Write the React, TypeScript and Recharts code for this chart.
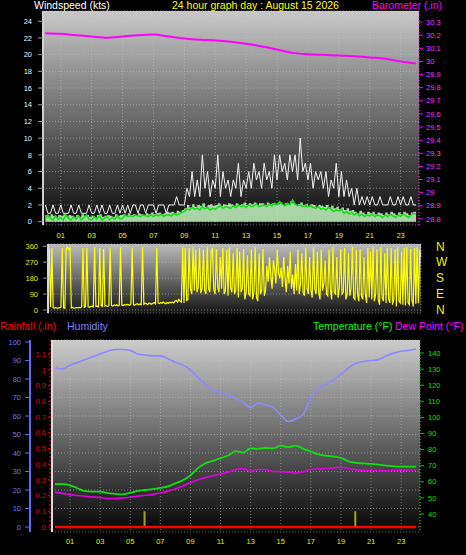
import React from "react"
import {
  ComposedChart,
  Line,
  Area,
  XAxis,
  YAxis,
  CartesianGrid,
  ReferenceLine,
} from "recharts"

const FONT = "'Liberation Sans', Arial, sans-serif"

// ─── data: wind speed, 10-minute samples from 00:00 to 24:00 ────────────────

const WIND_GUST = [
  2, 1, 1, 2, 1, 1, 2, 1, 1, 1, 2, 1, 1, 2, 1, 1, 1, 2, 1, 1, 2, 1, 2, 1,
  1, 2, 1, 1, 2, 1, 2, 1, 2, 1, 2, 2, 1, 2, 2, 1, 2, 2, 2, 1, 2, 2, 2, 1,
  2, 2, 2, 3, 2, 2, 2, 4, 3, 6, 3, 5, 3, 8, 4, 6, 3, 5, 4, 8, 3, 6, 4, 5,
  3, 5, 4, 7, 3, 5, 4, 6, 4, 7, 5, 6, 4, 7, 5, 6, 4, 8, 5, 8, 6, 7, 5, 8,
  6, 8, 5, 10, 6, 7, 5, 7, 4, 6, 5, 6, 4, 6, 3, 5, 4, 7, 3, 6, 3, 5, 3, 4,
  2, 4, 2, 3, 2, 3, 2, 3, 2, 2, 3, 2, 2, 2, 3, 2, 2, 3, 2, 3, 2, 2, 3, 2,
  2,
]

const WIND_AVG = [
  0.3, 0.8, 0.4, 0.2, 0.7, 0.3, 0.5, 0.2, 0.8, 0.4, 0.2, 0.6,
  0.3, 0.7, 0.2, 0.5, 0.8, 0.3, 0.2, 0.6, 0.3, 0.7, 0.2, 0.4,
  0.6, 0.2, 0.5, 0.3, 0.7, 0.3, 0.4, 0.8, 0.6, 0.7, 0.6, 0.8,
  0.7, 0.6, 0.8, 0.7, 0.6, 0.8, 0.6, 0.8, 0.7, 0.9, 0.6, 0.8,
  0.8, 0.7, 1.0, 0.8, 0.9, 1.1, 1.2, 1.5, 1.4, 1.7, 1.5, 1.6,
  1.4, 1.8, 1.5, 1.7, 1.4, 1.6, 1.5, 1.7, 1.9, 1.6, 1.8, 1.7,
  1.6, 1.9, 1.7, 2.0, 1.8, 1.9, 1.7, 2.0, 1.8, 1.9, 2.1, 1.8,
  1.9, 2.0, 1.8, 2.1, 1.9, 2.2, 2.0, 2.4, 2.1, 1.9, 2.2, 2.0,
  2.6, 2.1, 1.9, 2.0, 1.8, 1.9, 1.8, 1.9, 1.7, 1.6, 1.8, 1.5,
  1.6, 1.4, 1.7, 1.5, 1.2, 1.4, 1.3, 1.5, 1.0, 1.2, 0.9, 1.1,
  0.8, 1.0, 0.7, 0.9, 0.6, 0.8, 0.7, 0.9, 0.6, 0.8, 0.7, 0.5,
  0.8, 0.6, 0.9, 0.7, 0.5, 0.8, 0.6, 0.9, 0.7, 0.5, 0.8, 1.0,
  0.9,
]

const WIND_FILL = [
  0.8, 0.6, 0.9, 0.7, 0.5, 0.8, 0.7, 0.9, 0.6, 0.8, 0.7, 0.5,
  0.8, 0.6, 0.9, 0.7, 0.8, 0.6, 0.7, 0.5, 0.8, 0.9, 0.6, 0.7,
  0.8, 0.7, 0.6, 0.9, 0.7, 0.8, 0.9, 0.7, 1.0, 0.8, 0.9, 0.8,
  1.0, 0.9, 0.8, 1.0, 0.9, 1.1, 0.9, 1.0, 1.1, 0.9, 1.0, 1.2,
  1.1, 1.2, 1.0, 1.3, 1.2, 1.4, 1.6, 2.0, 1.7, 2.1, 1.8, 2.0,
  1.9, 2.2, 1.8, 2.0, 2.1, 1.9, 2.0, 2.2, 1.9, 2.1, 2.0, 2.2,
  2.1, 1.9, 2.2, 2.0, 2.1, 2.3, 2.0, 2.2, 2.1, 2.3, 2.0, 2.2,
  2.2, 2.0, 2.3, 2.1, 2.2, 2.0, 2.1, 2.3, 2.0, 2.2, 2.1, 2.4,
  2.2, 2.0, 2.1, 2.3, 2.0, 2.1, 1.9, 2.1, 2.0, 1.8, 2.0, 1.9,
  1.8, 2.0, 1.7, 1.9, 1.6, 1.8, 1.5, 1.7, 1.4, 1.6, 1.3, 1.4,
  1.2, 1.0, 1.3, 1.1, 0.9, 1.2, 1.0, 1.2, 0.9, 1.1, 1.0, 0.8,
  1.1, 0.9, 1.2, 1.0, 0.8, 1.1, 0.9, 1.2, 1.0, 0.8, 1.1, 1.2,
  1.0,
]

// ─── data: wind direction, 5-minute samples (one row per hour) ──────────────

const WIND_DIR = [
  355, 340, 15, 350, 12, 10, 14, 10, 12, 12, 15, 350,
  12, 10, 345, 355, 340, 350, 12, 15, 10, 12, 14, 12,
  15, 12, 18, 350, 15, 20, 352, 18, 15, 20, 22, 18,
  355, 20, 22, 18, 350, 25, 20, 345, 22, 25, 20, 24,
  352, 25, 22, 28, 25, 30, 24, 26, 355, 28, 25, 30,
  28, 32, 30, 26, 35, 350, 30, 28, 32, 36, 30, 34,
  30, 355, 32, 38, 35, 30, 40, 36, 32, 38, 42, 35,
  350, 40, 36, 42, 38, 45, 40, 35, 42, 38, 44, 40,
  45, 40, 50, 55, 45, 60, 50, 45, 355, 40, 350, 55,
  60, 350, 120, 90, 355, 110, 340, 100, 130, 350, 95, 120,
  340, 110, 90, 355, 120, 100, 330, 350, 115, 90, 345, 130,
  100, 300, 120, 350, 90, 110, 340, 80, 355, 125, 100, 320,
  90, 110, 350, 70, 330, 100, 120, 345, 60, 100, 310, 90,
  80, 340, 60, 100, 355, 70, 50, 320, 90, 110, 345, 80,
  110, 250, 160, 300, 200, 120, 280, 230, 150, 340, 210, 180,
  240, 130, 300, 180, 100, 250, 150, 330, 120, 200, 90, 260,
  110, 340, 90, 150, 320, 100, 80, 350, 120, 90, 300, 110,
  70, 355, 120, 90, 330, 100, 60, 340, 110, 150, 280, 90,
  80, 340, 120, 60, 355, 100, 90, 300, 70, 130, 345, 90,
  100, 350, 60, 90, 320, 80, 120, 355, 70, 60, 340, 90,
  50, 345, 80, 60, 300, 90, 40, 350, 70, 330, 60, 355,
  50, 90, 345, 60, 30, 355, 70, 50, 320, 40, 350, 60,
  40, 350, 30, 60, 345, 20, 355, 50, 40, 330, 30, 350,
  25, 355, 40, 30, 345, 60, 20, 350, 35, 355, 40, 340,
  300,
]

// hourly barometer (.in)
const BAROMETER = [
  30.215, 30.21, 30.2, 30.19, 30.18, 30.19, 30.2, 30.205, 30.19, 30.175, 30.165, 30.16,
  30.15, 30.135, 30.115, 30.09, 30.065, 30.055, 30.05, 30.045, 30.04, 30.03, 30.02, 30.0,
  29.985,
]

// ─── data: half-hourly temperature / dew point / humidity ───────────────────

const TEMPERATURE = [
  58.5, 58.5, 57.8, 56, 54.2, 53.9, 53.9, 52.9, 52.5, 52.2, 53.2, 54.3,
  54.9, 55.4, 56.2, 57.2, 59, 61, 64, 68.5, 71.5, 73, 74.7, 76.3,
  79, 78.2, 80.8, 80.5, 81, 80.8, 82.5, 81.5, 82.5, 80.5, 78.8, 77,
  76.2, 75.7, 74.8, 72.7, 71.8, 71.4, 71.1, 70.6, 70, 69.6, 69.4, 69.4,
  69.4,
]

const DEW_POINT = [
  53.4, 52.8, 52, 51.5, 51, 50.6, 50.2, 49.6, 49.6, 50, 50.4, 51.1,
  51.6, 52.2, 53, 54.2, 55.6, 57.4, 59.4, 61.3, 62.6, 63.8, 64.8, 66,
  67.5, 68.2, 66.5, 67.6, 67.5, 66.4, 66.3, 66, 65.4, 66.2, 67.6, 68,
  68.3, 68.6, 69, 68.2, 67.4, 67.2, 67, 67, 66.9, 67, 67.2, 67.3,
  67.3,
]

const HUMIDITY = [
  86, 85.5, 87.5, 89, 90.5, 92, 93.5, 95, 96, 96, 95.5, 93.5,
  93, 92.5, 92.5, 91, 89, 87.5, 85, 81, 77, 74, 72.5, 71.5,
  69.5, 67.5, 64.5, 67, 66, 64.5, 60.5, 57, 58.5, 61, 70, 75,
  77, 79.5, 82.5, 86, 88.5, 89.5, 90, 90.5, 92.5, 94, 95, 95.5,
  96.2,
]

// hourly rainfall (.in)
const RAINFALL = [0, 0, 0, 0, 0, 0, 0, 0, 0, 0, 0, 0, 0, 0, 0, 0, 0, 0, 0, 0, 0, 0, 0, 0, 0]
const RAIN_MARK_HOURS = [5.95, 19.95]
const RAIN_MARK_HEIGHT = 0.1

// ─── ticks ──────────────────────────────────────────────────────────────────

const ODD_HOURS = [1, 3, 5, 7, 9, 11, 13, 15, 17, 19, 21, 23]
const ALL_HOURS = [0, 1, 2, 3, 4, 5, 6, 7, 8, 9, 10, 11, 12, 13, 14, 15, 16, 17, 18, 19, 20, 21, 22, 23, 24]
const WIND_TICKS = [0, 2, 4, 6, 8, 10, 12, 14, 16, 18, 20, 22, 24]
const BARO_TICKS = [28.8, 28.9, 29, 29.1, 29.2, 29.3, 29.4, 29.5, 29.6, 29.7, 29.8, 29.9, 30, 30.1, 30.2, 30.3]
const DIR_TICKS = [0, 90, 180, 270, 360]
const DIR_LETTERS: Record<number, string> = { 0: "N", 90: "E", 180: "S", 270: "W", 360: "N" }
const HUM_TICKS = [0, 10, 20, 30, 40, 50, 60, 70, 80, 90, 100]
const RAIN_TICKS = [0, 0.1, 0.2, 0.3, 0.4, 0.5, 0.6, 0.7, 0.8, 0.9, 1, 1.1]
const TEMP_TICKS = [40, 50, 60, 70, 80, 90, 100, 110, 120, 130, 140]

const WIND_MINOR = Array.from({ length: 51 }, (_, i) => i * 0.5)
const HUM_MINOR = Array.from({ length: 51 }, (_, i) => i * 2)

const windRows = WIND_GUST.map((g, i) => ({ t: i / 6, gust: g, avg: WIND_AVG[i], fill: WIND_FILL[i] }))
const dirRows = WIND_DIR.map((d, i) => ({ t: i / 12, dir: d }))
const baroRows = BAROMETER.map((b, i) => ({ t: i, baro: b }))
const thRows = TEMPERATURE.map((v, i) => ({ t: i / 2, temp: v, dew: DEW_POINT[i], hum: HUMIDITY[i] }))
const rainRows = RAINFALL.map((r, i) => ({ t: i, rain: r }))

const pad = (h: number) => String(h).padStart(2, "0")
const oneDec = (v: number) => String(Number(v.toFixed(1)))
const tickFont = (fill: string, size = 7.5) => ({ fill, fontSize: size, fontFamily: FONT })

const GRID = { stroke: "#c4c4c4", strokeOpacity: 0.55, strokeDasharray: "1 2" }

// axes sharing a side get stacked by id, first id nearest the plot,
// hence the numbered prefixes below

// ─── Panel 1: windspeed + barometer ─────────────────────────────────────────

function WindChart() {
  return (
    <ComposedChart width={466} height={242} data={windRows} margin={{ top: 11, right: 0, bottom: 0, left: 0 }}>
      <defs>
        <linearGradient id="bgWind" x1="0" y1="0" x2="0" y2="1">
          <stop offset="0%" stopColor="#c8c8c8" />
          <stop offset="100%" stopColor="#0c0c0c" />
        </linearGradient>
      </defs>
      <CartesianGrid xAxisId="x2hr" yAxisId="y2wind" fill="url(#bgWind)" {...GRID} />
      <XAxis
        xAxisId="x1minor"
        type="number"
        dataKey="t"
        domain={[-0.15, 24.19]}
        allowDataOverflow
        ticks={ALL_HOURS}
        interval={0}
        tick={false}
        tickSize={3}
        height={0}
        axisLine={{ stroke: "#bdbdbd", strokeWidth: 2 }}
        tickLine={{ stroke: "#8c8c8c" }}
      />
      <XAxis
        xAxisId="x2hr"
        type="number"
        dataKey="t"
        domain={[-0.15, 24.19]}
        allowDataOverflow
        ticks={ODD_HOURS}
        interval={0}
        tickFormatter={pad}
        tick={tickFont("#eeee00")}
        tickSize={4}
        tickMargin={4}
        tickLine={false}
        axisLine={false}
        height={17}
      />
      <YAxis
        yAxisId="y1windMinor"
        domain={[-0.4, 25.23]}
        allowDataOverflow
        ticks={WIND_MINOR}
        interval={0}
        width={0}
        tick={false}
        tickSize={3}
        axisLine={false}
        tickLine={{ stroke: "#8a8a8a" }}
      />
      <YAxis
        yAxisId="y2wind"
        domain={[-0.4, 25.23]}
        allowDataOverflow
        ticks={WIND_TICKS}
        interval={0}
        width={43}
        tickSize={5}
        tickMargin={6}
        tick={tickFont("#eef2ff")}
        axisLine={{ stroke: "#d0d0d0", strokeWidth: 2 }}
        tickLine={{ stroke: "#9a9a9a" }}
      />
      <YAxis
        yAxisId="y3baro"
        orientation="right"
        domain={[28.754, 30.384]}
        allowDataOverflow
        ticks={BARO_TICKS}
        interval={0}
        tickFormatter={oneDec}
        width={47}
        tickSize={4}
        tickMargin={3}
        tick={tickFont("#ff33ff")}
        axisLine={{ stroke: "#ff00ff", strokeDasharray: "1 2" }}
        tickLine={{ stroke: "#ff00ff" }}
      />
      <Line xAxisId="x2hr" yAxisId="y2wind" dataKey="gust" type="linear" stroke="#f4f4f4" strokeWidth={1} dot={false} isAnimationActive={false} />
      <Area xAxisId="x2hr" yAxisId="y2wind" dataKey="fill" type="stepAfter" fill="#c2f6c2" fillOpacity={0.85} stroke="none" isAnimationActive={false} />
      <Line xAxisId="x2hr" yAxisId="y2wind" dataKey="avg" type="linear" stroke="#10e010" strokeWidth={1.5} dot={false} isAnimationActive={false} />
      <Line xAxisId="x2hr" yAxisId="y3baro" data={baroRows} dataKey="baro" type="monotone" stroke="#ff00ff" strokeWidth={2} dot={false} isAnimationActive={false} />
    </ComposedChart>
  )
}

// ─── Panel 2: wind direction ────────────────────────────────────────────────

function DirectionChart() {
  return (
    <ComposedChart width={466} height={80} data={dirRows} margin={{ top: 4, right: 0, bottom: 7, left: 0 }}>
      <defs>
        <linearGradient id="bgDir" x1="0" y1="0" x2="0" y2="1">
          <stop offset="0%" stopColor="#bcbcbc" />
          <stop offset="100%" stopColor="#161616" />
        </linearGradient>
      </defs>
      <CartesianGrid xAxisId="hr" yAxisId="dir" fill="url(#bgDir)" {...GRID} />
      <XAxis
        xAxisId="hr"
        type="number"
        dataKey="t"
        domain={[0, 24]}
        allowDataOverflow
        ticks={ODD_HOURS}
        interval={0}
        tick={false}
        tickLine={false}
        height={0}
        axisLine={{ stroke: "#a8a8a8", strokeWidth: 2 }}
      />
      <YAxis
        yAxisId="dir"
        domain={[-17, 373]}
        allowDataOverflow
        ticks={DIR_TICKS}
        interval={0}
        width={48}
        tickSize={5}
        tickMargin={5}
        tick={tickFont("#e8e800")}
        axisLine={{ stroke: "#d8d8d8", strokeWidth: 2 }}
        tickLine={{ stroke: "#8a8a8a" }}
      />
      <YAxis
        yAxisId="dirLetters"
        orientation="right"
        domain={[-17, 373]}
        allowDataOverflow
        ticks={DIR_TICKS}
        interval={0}
        tickFormatter={(v: number) => DIR_LETTERS[v]}
        width={45}
        tickSize={0}
        tickMargin={15}
        tick={tickFont("#f0f000", 12)}
        tickLine={false}
        axisLine={false}
      />
      <Line xAxisId="hr" yAxisId="dir" dataKey="dir" type="linear" stroke="#ffff00" strokeWidth={1.2} dot={false} isAnimationActive={false} />
    </ComposedChart>
  )
}

// ─── Panel 3: rainfall, humidity, temperature, dew point ────────────────────

function TempChart() {
  return (
    <ComposedChart width={466} height={225} data={thRows} margin={{ top: 10, right: 0, bottom: 0, left: 0 }}>
      <defs>
        <linearGradient id="bgTemp" x1="0" y1="0" x2="0" y2="1">
          <stop offset="0%" stopColor="#cccccc" />
          <stop offset="100%" stopColor="#050505" />
        </linearGradient>
      </defs>
      <CartesianGrid xAxisId="x2hr" yAxisId="y4hum" fill="url(#bgTemp)" {...GRID} />
      <XAxis
        xAxisId="x1minor"
        type="number"
        dataKey="t"
        domain={[-0.2, 24.25]}
        allowDataOverflow
        ticks={ALL_HOURS}
        interval={0}
        tick={false}
        tickSize={3}
        height={0}
        axisLine={{ stroke: "#c0c0c0", strokeWidth: 2 }}
        tickLine={{ stroke: "#8c8c8c" }}
      />
      <XAxis
        xAxisId="x2hr"
        type="number"
        dataKey="t"
        domain={[-0.2, 24.25]}
        allowDataOverflow
        ticks={ODD_HOURS}
        interval={0}
        tickFormatter={pad}
        tick={tickFont("#eeee00")}
        tickSize={4}
        tickMargin={3}
        tickLine={false}
        axisLine={false}
        height={23}
      />
      <YAxis
        yAxisId="y1frame"
        domain={[0, 1]}
        allowDataOverflow
        width={2}
        tick={false}
        tickLine={false}
        axisLine={{ stroke: "#dcdcdc", strokeWidth: 2 }}
      />
      <YAxis
        yAxisId="y2rain"
        domain={[-0.032, 1.191]}
        allowDataOverflow
        ticks={RAIN_TICKS}
        interval={0}
        tickFormatter={oneDec}
        width={20}
        tickSize={2}
        tickMargin={2}
        tick={tickFont("#e00000")}
        axisLine={{ stroke: "#ee0000", strokeDasharray: "2 2" }}
        tickLine={{ stroke: "#ee0000" }}
      />
      <YAxis
        yAxisId="y3humMinor"
        domain={[-2.7, 101.1]}
        allowDataOverflow
        ticks={HUM_MINOR}
        interval={0}
        width={0}
        tick={false}
        tickSize={3}
        axisLine={false}
        tickLine={{ stroke: "#6464ff" }}
      />
      <YAxis
        yAxisId="y4hum"
        domain={[-2.7, 101.1]}
        allowDataOverflow
        ticks={HUM_TICKS}
        interval={0}
        width={30}
        tickSize={5}
        tickMargin={4}
        tick={tickFont("#7070ff")}
        axisLine={{ stroke: "#6464ff", strokeWidth: 2 }}
        tickLine={{ stroke: "#6464ff" }}
      />
      <YAxis
        yAxisId="y5temp"
        orientation="right"
        domain={[28.8, 148.1]}
        allowDataOverflow
        ticks={TEMP_TICKS}
        interval={0}
        width={46}
        tickSize={4}
        tickMargin={4}
        tick={tickFont("#00e000")}
        axisLine={{ stroke: "#00c000", strokeDasharray: "1 2" }}
        tickLine={{ stroke: "#00c000" }}
      />
      <Line xAxisId="x2hr" yAxisId="y4hum" dataKey="hum" type="monotone" stroke="#8a8aff" strokeWidth={1.6} dot={false} isAnimationActive={false} />
      <Line xAxisId="x2hr" yAxisId="y5temp" dataKey="dew" type="monotone" stroke="#e000e0" strokeWidth={1.6} dot={false} isAnimationActive={false} />
      <Line xAxisId="x2hr" yAxisId="y5temp" dataKey="temp" type="monotone" stroke="#10e010" strokeWidth={1.8} dot={false} isAnimationActive={false} />
      {RAIN_MARK_HOURS.map((h) => (
        <ReferenceLine
          key={h}
          xAxisId="x2hr"
          yAxisId="y2rain"
          segment={[{ x: h, y: 0 }, { x: h, y: RAIN_MARK_HEIGHT }]}
          stroke="#a8a800"
          strokeWidth={2}
        />
      ))}
      <Line xAxisId="x2hr" yAxisId="y2rain" data={rainRows} dataKey="rain" type="linear" stroke="#ff0000" strokeWidth={2.5} dot={false} isAnimationActive={false} />
    </ComposedChart>
  )
}

function Caption({ x, y, color, children }: { x: number; y: number; color: string; children: React.ReactNode }) {
  return (
    <div
      style={{
        position: "absolute",
        left: x,
        top: y,
        color,
        fontFamily: FONT,
        fontSize: 10.5,
        lineHeight: "13px",
        whiteSpace: "nowrap",
      }}
    >
      {children}
    </div>
  )
}

export default function App() {
  return (
    <div style={{ position: "absolute", left: 0, top: 0, width: 466, height: 555, background: "#000", overflow: "hidden" }}>
      <div style={{ position: "absolute", left: 0, top: 0 }}>
        <WindChart />
      </div>
      <div style={{ position: "absolute", left: 0, top: 240 }}>
        <DirectionChart />
      </div>
      <div style={{ position: "absolute", left: 0, top: 330 }}>
        <TempChart />
      </div>
      <Caption x={34} y={-1} color="#ffffff">Windspeed (kts)</Caption>
      <Caption x={172} y={-1} color="#ffff00">24 hour graph day : August 15 2026</Caption>
      <Caption x={372} y={-1} color="#ff00ff">Barometer (.in)</Caption>
      <Caption x={0} y={320} color="#ff0000">Rainfall (.in)</Caption>
      <Caption x={67} y={320} color="#8080ff">Humidity</Caption>
      <Caption x={313} y={320} color="#00ff00">Temperature (°F)</Caption>
      <Caption x={395} y={320} color="#ff00ff">Dew Point (°F)</Caption>
    </div>
  )
}
